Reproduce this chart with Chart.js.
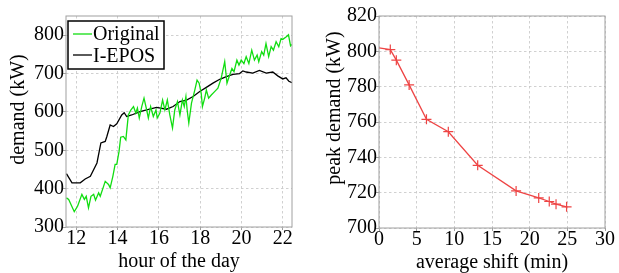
<!DOCTYPE html>
<html lang="en">
<head>
<meta charset="UTF-8">
<title>Demand: Original vs I-EPOS</title>
<script src="https://cdn.jsdelivr.net/npm/chart.js"></script>
<style>
  body { margin: 0; background: #fff; }
  #left { position: absolute; left: 0; top: 0; }
  #right { position: absolute; left: 310px; top: 0; }
</style>
</head>
<body>
<canvas id="left" width="310" height="273"></canvas>
<canvas id="right" width="309" height="273"></canvas>
<script>
// left panel: demand over the day
const origHours = [11.52, 11.63, 11.90, 12.06, 12.27, 12.39, 12.48, 12.59, 12.71, 12.84, 12.93, 13.08, 13.16, 13.32, 13.40, 13.56, 13.64, 13.77, 13.88, 13.96,
  14.07, 14.15, 14.28, 14.40, 14.52, 14.64, 14.77, 14.88, 14.96, 15.05, 15.17, 15.28, 15.41, 15.49, 15.60, 15.73, 15.86, 15.92, 16.05, 16.18,
  16.29, 16.41, 16.53, 16.66, 16.77, 16.90, 17.02, 17.14, 17.23, 17.31, 17.37, 17.45, 17.58, 17.74, 17.85, 17.95, 18.05, 18.11, 18.22, 18.30,
  18.41, 18.54, 18.70, 18.86, 19.02, 19.19, 19.30, 19.43, 19.54, 19.64, 19.78, 19.88, 19.99, 20.12, 20.23, 20.36, 20.50, 20.63, 20.76, 20.84,
  20.98, 21.08, 21.19, 21.32, 21.44, 21.55, 21.68, 21.81, 21.92, 22.00, 22.16, 22.28, 22.38, 22.45];
const origKw = [376, 372, 340, 354, 385, 372, 380, 350, 380, 385, 370, 389, 380, 406, 419, 411, 402, 432, 463, 463,
  497, 534, 536, 527, 592, 605, 614, 597, 610, 584, 614, 636, 605, 584, 614, 588, 605, 584, 597, 631,
  605, 631, 592, 558, 605, 627, 592, 631, 614, 640, 605, 571, 623, 657, 683, 675, 649, 614, 636, 657,
  636, 644, 653, 662, 688, 731, 675, 696, 713, 705, 735, 722, 735, 726, 744, 726, 761, 735, 748, 731,
  757, 748, 778, 744, 770, 761, 783, 770, 791, 789, 795, 801, 772, 776];
const iepoHours = [11.52, 11.79, 12.19, 12.43, 12.68, 13.00, 13.19, 13.40, 13.48, 13.64, 13.80, 13.96, 14.20, 14.32, 14.44, 14.68,
  15.09, 15.41, 15.89, 16.37, 16.69, 17.02, 17.34, 17.66, 17.98, 18.30, 18.62, 18.95, 19.27, 19.59, 19.91, 20.07,
  20.23, 20.55, 20.87, 21.20, 21.52, 21.76, 22.00, 22.16, 22.30, 22.45];
const iepoKw = [439, 415, 415, 425, 432, 467, 519, 523, 536, 566, 562, 569, 592, 598, 588, 592,
  601, 605, 612, 607, 614, 627, 631, 640, 653, 664, 675, 685, 692, 698, 700, 707,
  704, 701, 708, 701, 704, 694, 686, 689, 680, 676];
const hourTicks = [12, 14, 16, 18, 20, 22];
const demandTicks = [300, 400, 500, 600, 700, 800];

// right panel: peak demand vs average shift
const shiftMin = [0, 1.5, 2.3, 4.0, 6.3, 9.2, 13.1, 18.2, 21.2, 22.6, 23.5, 24.9];
const peakKw = [802, 801, 795, 781, 761.5, 754.5, 735.5, 721, 717, 715, 713.5, 712];
const shiftTicks = [0, 5, 10, 15, 20, 25, 30];
const peakTicks = [700, 720, 740, 760, 780, 800, 820];

const FONT = 'Liberation Serif, Times New Roman, serif';
Chart.defaults.font.family = FONT;
Chart.defaults.color = '#000';

// grey box round the plot area, like pgfplots
const frame = {
  id: 'frame',
  afterDatasetsDraw(chart) {
    const a = chart.chartArea, c = chart.ctx;
    c.save();
    c.strokeStyle = '#a0a0a0';
    c.lineWidth = 1;
    c.strokeRect(a.left, a.top, a.right - a.left, a.bottom - a.top);
    c.restore();
  }
};

// y label, sits a bit above the middle of the axis in the original
const yTitle = {
  id: 'yTitle',
  afterDraw(chart, args, opts) {
    const a = chart.chartArea, c = chart.ctx;
    c.save();
    c.translate(opts.x, (a.top + a.bottom) / 2 - opts.shift);
    c.rotate(-Math.PI / 2);
    c.font = '20px ' + FONT;
    c.fillStyle = '#000';
    c.textAlign = 'center';
    c.textBaseline = 'middle';
    c.fillText(opts.text, 0, 0);
    c.restore();
  }
};

const boxLegend = {
  id: 'boxLegend',
  afterDraw(chart) {
    const c = chart.ctx;
    c.save();
    c.fillStyle = '#fff';
    c.fillRect(68, 21, 96, 48);
    c.strokeStyle = '#000';
    c.lineWidth = 1.5;
    c.strokeRect(68, 21, 96, 48);
    c.lineWidth = 1.3;
    c.strokeStyle = '#11dd11';
    c.beginPath(); c.moveTo(73, 34); c.lineTo(92, 34); c.stroke();
    c.strokeStyle = '#000';
    c.beginPath(); c.moveTo(73, 55); c.lineTo(92, 55); c.stroke();
    c.fillStyle = '#000';
    c.font = '20px ' + FONT;
    c.textBaseline = 'alphabetic';
    c.fillText('Original', 93, 40);
    c.fillText('I-EPOS', 93, 61.5);
    c.restore();
  }
};

function scale(ticks, min, max, fit, pad) {
  return {
    type: 'linear', min: min, max: max,
    afterBuildTicks: s => { s.ticks = ticks.map(v => ({ value: v })); },
    afterFit: fit,
    grid: { color: '#c4c4c4', lineWidth: 0.8, drawTicks: true, tickLength: 3, tickColor: '#a0a0a0', tickWidth: 1, tickBorderDash: [] },
    border: { display: false, dash: [2.5, 2.5] },
    ticks: { font: { size: 20, lineHeight: 1 }, padding: pad, autoSkip: false, maxRotation: 0 }
  };
}

function xTitle(text, pb) {
  return { display: true, text: text, font: { size: 20, lineHeight: 1 }, padding: { top: 0, bottom: pb } };
}

new Chart(document.getElementById('left'), {
  type: 'line',
  data: {
    datasets: [
      { data: origHours.map((h, i) => ({ x: h, y: origKw[i] })), borderColor: '#11dd11', borderWidth: 1.3, pointRadius: 0, tension: 0 },
      { data: iepoHours.map((h, i) => ({ x: h, y: iepoKw[i] })), borderColor: '#000', borderWidth: 1.3, pointRadius: 0, tension: 0 }
    ]
  },
  options: {
    responsive: false, animation: false, devicePixelRatio: 1,
    layout: { padding: { top: 16, right: 18, left: 0, bottom: 0 } },
    plugins: {
      legend: { display: false }, tooltip: { enabled: false },
      yTitle: { text: 'demand (kW)', x: 19, shift: 12 }
    },
    scales: {
      x: Object.assign(scale(hourTicks, 11.5, 22.45,
        s => { s.height = 46; s.paddingLeft = 0; s.paddingRight = 0; }, -1), { title: xTitle('hour of the day', 1) }),
      y: scale(demandTicks, 300, 850,
        s => { s.width = 66; s.paddingTop = 0; s.paddingBottom = 0; }, -1)
    }
  },
  plugins: [frame, yTitle, boxLegend]
});

new Chart(document.getElementById('right'), {
  type: 'line',
  data: {
    datasets: [{
      data: shiftMin.map((m, i) => ({ x: m, y: peakKw[i] })),
      borderColor: '#ee4444', borderWidth: 1.3, tension: 0,
      pointStyle: 'cross', pointBorderColor: '#ee4444', pointBorderWidth: 1.2,
      pointRadius: ctx => ctx.dataIndex === 0 ? 0 : 5
    }]
  },
  options: {
    responsive: false, animation: false, devicePixelRatio: 1,
    layout: { padding: { top: 16, right: 14, left: 0, bottom: 0 } },
    plugins: {
      legend: { display: false }, tooltip: { enabled: false },
      yTitle: { text: 'peak demand (kW)', x: 25, shift: 14 }
    },
    scales: {
      x: Object.assign(scale(shiftTicks, 0, 30,
        s => { s.height = 45; s.paddingLeft = 0; s.paddingRight = 0; }, -1), { title: xTitle('average shift (min)', 0) }),
      y: scale(peakTicks, 700, 820,
        s => { s.width = 69; s.paddingTop = 0; s.paddingBottom = 0; }, -1)
    }
  },
  plugins: [frame, yTitle]
});
</script>
</body>
</html>
